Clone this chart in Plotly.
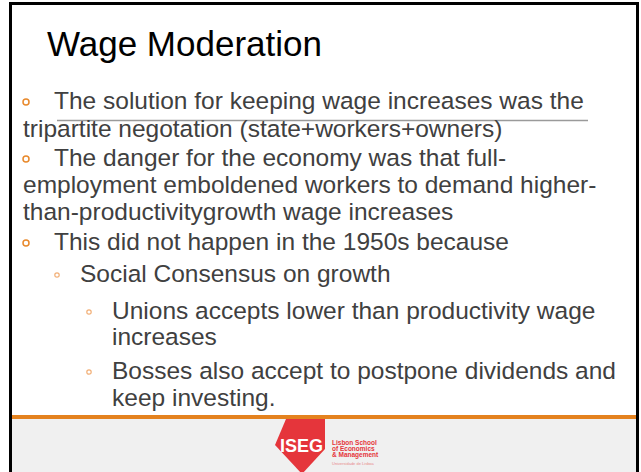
import plotly.graph_objects as go

# ---- content ----
title_text = "Wage Moderation"
body_lines = [
    "The solution for keeping wage increases was the",
    "tripartite negotation (state+workers+owners)",
    "The danger for the economy was that full-",
    "employment emboldened workers to demand higher-",
    "than-productivitygrowth wage increases",
    "This did not happen in the 1950s because",
    "Social Consensus on growth",
    "Unions accepts lower than productivity wage",
    "increases",
    "Bosses also accept to postpone dividends and",
    "keep investing.",
]
line_levels = [1, 1, 1, 1, 1, 1, 2, 3, 3, 3, 3]
line_bulleted = [True, False, True, False, False, True, True, True, False, True, False]
logo_lines = ["Lisbon School", "of Economics", "& Management"]
logo_sub = "Universidade de Lisboa"
logo_mark = "ISEG"

# ---- layout helpers (pixel space) ----
W, H = 641, 472
line_y = [100, 128, 157, 184, 211, 241, 273, 310, 336, 370, 397]
text_x_first = {1: 52, 2: 78, 3: 110}
text_x_cont = {1: 21, 2: 78, 3: 110}
bullet_x = {1: 26, 2: 57, 3: 89}
bullet_r = {1: 3.0, 2: 2.2, 3: 2.2}
bullet_w = {1: 1.5, 2: 1.2, 3: 1.2}
bullet_color = {1: "#E8892C", 2: "#F2B078", 3: "#F2B078"}
TEXT_COLOR = "#404040"
FONT = "Liberation Sans, Arial, Helvetica, sans-serif"

fig = go.Figure()
fig.add_trace(go.Scatter(x=[0, W], y=[0, H], mode="markers",
                         marker=dict(opacity=0), hoverinfo="skip", showlegend=False))

shapes = []
# footer background
shapes.append(dict(type="rect", x0=11, x1=638, y0=419, y1=H + 2, fillcolor="#F0F0F0",
                   line=dict(width=0), layer="below"))
# orange separator
shapes.append(dict(type="rect", x0=11, x1=638, y0=415, y1=419, fillcolor="#E4821E",
                   line=dict(width=0)))
# grey rule under first lines
shapes.append(dict(type="line", x0=57, x1=588, y0=120.5, y1=120.5,
                   line=dict(color="#9A9A9A", width=1.5)))
# slide border (black)
shapes.append(dict(type="line", x0=10.5, x1=10.5, y0=2, y1=H + 2, line=dict(color="#000", width=3)))
shapes.append(dict(type="line", x0=9, x1=639, y0=3.5, y1=3.5, line=dict(color="#000", width=3)))
shapes.append(dict(type="line", x0=637.5, x1=637.5, y0=2, y1=H + 2, line=dict(color="#000", width=3)))
# logo diamond
shapes.append(dict(type="path", path="M 286 419 L 325 419 L 325 449 L 302 474 L 275 445 Z",
                   fillcolor="#E5353B", line=dict(width=0)))

annotations = []
annotations.append(dict(x=45, y=43, text=title_text, showarrow=False, xanchor="left",
                        yanchor="middle", font=dict(family=FONT, size=35, color="#000")))

for txt, lvl, bul, y in zip(body_lines, line_levels, line_bulleted, line_y):
    x = text_x_first[lvl] if bul else text_x_cont[lvl]
    annotations.append(dict(x=x, y=y, text=txt, showarrow=False, xanchor="left",
                            yanchor="middle", font=dict(family=FONT, size=24.5, color=TEXT_COLOR)))
    if bul:
        cx, cy, r = bullet_x[lvl], y + 2, bullet_r[lvl]
        shapes.append(dict(type="circle", x0=cx - r, x1=cx + r, y0=cy - r, y1=cy + r,
                           line=dict(color=bullet_color[lvl], width=bullet_w[lvl]),
                           fillcolor="rgba(0,0,0,0)"))

annotations.append(dict(x=301, y=446, text="<b>" + logo_mark + "</b>", showarrow=False,
                        xanchor="center", yanchor="middle",
                        font=dict(family=FONT, size=18, color="#FFFFFF")))
for i, t in enumerate(logo_lines):
    annotations.append(dict(x=330, y=442 + 6.5 * i, text="<b>" + t + "</b>", showarrow=False,
                            xanchor="left", yanchor="middle",
                            font=dict(family=FONT, size=6.5, color="#E5353B")))
annotations.append(dict(x=330, y=463, text=logo_sub, showarrow=False, xanchor="left",
                        yanchor="middle", font=dict(family=FONT, size=4, color="#E88A8C")))

fig.update_layout(
    width=W, height=H, margin=dict(l=0, r=0, t=0, b=0),
    paper_bgcolor="#FFFFFF", plot_bgcolor="#FFFFFF",
    xaxis=dict(range=[0, W], visible=False, fixedrange=True),
    yaxis=dict(range=[H, 0], visible=False, fixedrange=True),
    shapes=shapes, annotations=annotations, showlegend=False,
)
fig.write_html("out.html", config={"displayModeBar": False},
               post_script="document.body.style.margin='0';document.body.style.overflow='hidden';")
